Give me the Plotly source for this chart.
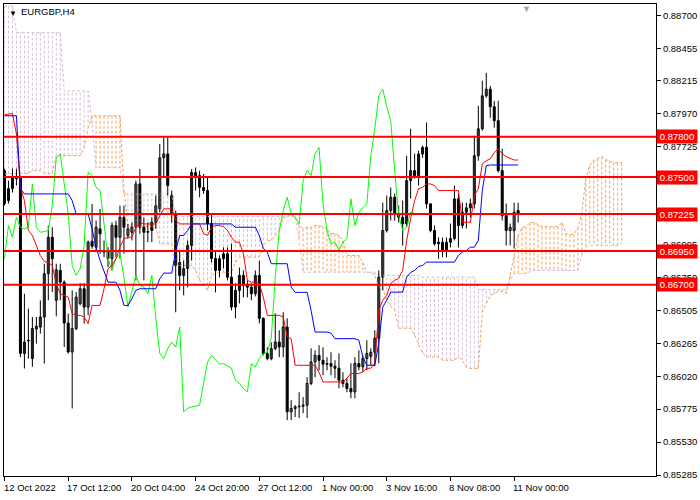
import plotly.graph_objects as go

# ---- data (EURGBP H4), bar index 0 = 12 Oct 2022 20:00 ----
open_ = [0.87548,0.87325,0.87414,0.87503,0.87496,0.86188,0.86282,0.86151,0.86371,0.86385,
         0.86460,0.86782,0.87053,0.86584,0.86806,0.86719,0.86415,0.86200,0.86374,0.86559,
         0.86670,0.86534,0.87023,0.86979,0.87115,0.86954,0.86942,0.86895,0.87140,0.87053,
         0.87201,0.87066,0.87090,0.87127,0.87449,0.87127,0.87090,0.87164,0.87164,0.87264,
         0.87644,0.87672,0.87362,0.87229,0.86865,0.86769,0.86821,0.86991,0.87533,0.87511,
         0.87422,0.87400,0.87155,0.86895,0.86806,0.86893,0.86930,0.86756,0.86534,0.86658,
         0.86769,0.86695,0.86682,0.86633,0.86769,0.86450,0.86188,0.86151,0.86225,0.86274,
         0.86237,0.86385,0.85755,0.85780,0.85792,0.85797,0.85805,0.85966,0.86126,0.86175,
         0.86138,0.86109,0.86114,0.86094,0.86079,0.85990,0.85966,0.85928,0.85903,0.86114,
         0.86089,0.86151,0.86168,0.86198,0.86302,0.86756,0.87103,0.87251,0.87350,0.87227,
         0.87201,0.87152,0.87474,0.87548,0.87511,0.87672,0.87721,0.87301,0.87103,0.87004,
         0.87016,0.86954,0.87016,0.87043,0.87338,0.87140,0.87239,0.87271,0.87301,0.87659,
         0.87859,0.88104,0.88154,0.88023,0.87919,0.87548,0.87214,0.87103,0.87103,0.87251]
high = [0.87563,0.87474,0.87563,0.87563,0.87511,0.86633,0.86522,0.86460,0.86460,0.86584,
        0.86856,0.87140,0.87127,0.86856,0.86856,0.86732,0.86485,0.86658,0.86645,0.86712,
        0.86712,0.87029,0.87301,0.87177,0.87264,0.87029,0.86979,0.87164,0.87177,0.87288,
        0.87288,0.87152,0.87164,0.87474,0.87560,0.87201,0.87164,0.87201,0.87362,0.87746,
        0.87795,0.87795,0.87400,0.87251,0.86954,0.86880,0.87029,0.87560,0.87572,0.87548,
        0.87523,0.87498,0.87229,0.86954,0.86917,0.86977,0.86977,0.87006,0.86710,0.86828,
        0.86806,0.86732,0.86710,0.86806,0.86880,0.86457,0.86235,0.86272,0.86487,0.86361,
        0.86495,0.86450,0.85842,0.85805,0.85901,0.85864,0.86012,0.86227,0.86213,0.86250,
        0.86235,0.86161,0.86198,0.86138,0.86190,0.86049,0.86005,0.86116,0.86161,0.86213,
        0.86175,0.86287,0.86227,0.86361,0.86806,0.87310,0.87362,0.87422,0.87377,0.87288,
        0.87325,0.87659,0.87859,0.87674,0.87696,0.87733,0.87906,0.87303,0.87140,0.87051,
        0.87051,0.87051,0.87155,0.87437,0.87377,0.87310,0.87310,0.87340,0.87808,0.88030,
        0.88216,0.88275,0.88178,0.88067,0.88067,0.87711,0.87303,0.87155,0.87310,0.87310]
low = [0.87288,0.87303,0.87385,0.87437,0.86161,0.86077,0.86151,0.86089,0.86262,0.86336,
       0.86114,0.86584,0.86645,0.86465,0.86584,0.86237,0.86188,0.85780,0.86361,0.86546,
       0.86411,0.86472,0.86967,0.86942,0.86930,0.86905,0.86831,0.86806,0.86905,0.86893,
       0.86930,0.87041,0.87029,0.86732,0.87078,0.86732,0.87016,0.87016,0.87115,0.87239,
       0.87498,0.87362,0.87162,0.86495,0.86658,0.86621,0.86680,0.86880,0.87400,0.87350,
       0.87375,0.87103,0.86865,0.86643,0.86754,0.86821,0.86732,0.86509,0.86450,0.86561,
       0.86606,0.86606,0.86584,0.86613,0.86413,0.86175,0.86138,0.86138,0.86213,0.86161,
       0.86161,0.85693,0.85693,0.85716,0.85708,0.85745,0.85708,0.85953,0.86012,0.86064,
       0.86027,0.86064,0.86027,0.86005,0.85931,0.85938,0.85901,0.85856,0.85856,0.86064,
       0.86049,0.86064,0.86101,0.86094,0.86116,0.86658,0.87088,0.87177,0.87177,0.87162,
       0.86991,0.87132,0.87340,0.87488,0.87437,0.87644,0.87266,0.87090,0.86991,0.86893,
       0.86905,0.86902,0.86977,0.87029,0.86977,0.87118,0.87118,0.87199,0.87266,0.87622,
       0.87845,0.88089,0.87941,0.87867,0.87533,0.87177,0.86991,0.86991,0.86969,0.87162]
close = [0.87303,0.87414,0.87496,0.87488,0.86190,0.86274,0.86287,0.86374,0.86391,0.86460,
         0.86782,0.87053,0.86893,0.86811,0.86719,0.86415,0.86200,0.86374,0.86608,0.86670,
         0.86534,0.87016,0.86986,0.87127,0.87078,0.86942,0.86895,0.87140,0.87053,0.87201,
         0.87127,0.87115,0.87127,0.87449,0.87127,0.87090,0.87095,0.87103,0.87288,0.87644,
         0.87672,0.87437,0.87227,0.86843,0.86769,0.86819,0.86991,0.87535,0.87511,0.87424,
         0.87400,0.87152,0.86895,0.86806,0.86893,0.86930,0.86756,0.86534,0.86658,0.86769,
         0.86695,0.86682,0.86633,0.86769,0.86450,0.86188,0.86151,0.86225,0.86274,0.86237,
         0.86385,0.85755,0.85780,0.85792,0.85797,0.85805,0.85966,0.86126,0.86175,0.86138,
         0.86109,0.86114,0.86094,0.86079,0.85990,0.85966,0.85928,0.85903,0.86114,0.86089,
         0.86151,0.86188,0.86198,0.86302,0.86756,0.87103,0.87251,0.87350,0.87227,0.87201,
         0.87152,0.87474,0.87548,0.87511,0.87672,0.87721,0.87301,0.87103,0.87004,0.87016,
         0.86954,0.87016,0.87043,0.87338,0.87140,0.87239,0.87271,0.87301,0.87659,0.87859,
         0.88104,0.88154,0.88023,0.87919,0.87548,0.87214,0.87103,0.87125,0.87239,0.87229]

tenkan = [0.87963,0.87969,0.87973,0.87820,0.87424,0.87325,0.87103,0.87066,0.86991,0.86917,
          0.86873,0.86865,0.86843,0.86707,0.86633,0.86621,0.86608,0.86485,0.86472,0.86472,
          0.86460,0.86411,0.86546,0.86546,0.86546,0.86670,0.86819,0.86843,0.86893,0.86979,
          0.87041,0.87053,0.87053,0.87127,0.87164,0.87152,0.87152,0.87152,0.87152,0.87214,
          0.87264,0.87264,0.87264,0.87177,0.87152,0.87152,0.87152,0.87152,0.87152,0.87152,
          0.87080,0.87066,0.87127,0.87140,0.87140,0.87132,0.87103,0.87053,0.87016,0.87016,
          0.86930,0.86732,0.86719,0.86719,0.86707,0.86608,0.86472,0.86472,0.86472,0.86472,
          0.86460,0.86311,0.86299,0.86101,0.86101,0.86101,0.86101,0.86101,0.86101,0.86049,
          0.85977,0.85977,0.85977,0.85977,0.85977,0.85977,0.86005,0.86040,0.86040,0.86040,
          0.86052,0.86079,0.86079,0.86116,0.86509,0.86584,0.86621,0.86710,0.86732,0.86747,
          0.86806,0.87029,0.87192,0.87325,0.87414,0.87424,0.87449,0.87449,0.87437,0.87400,
          0.87400,0.87400,0.87400,0.87400,0.87400,0.87164,0.87164,0.87164,0.87362,0.87414,
          0.87598,0.87622,0.87635,0.87681,0.87709,0.87674,0.87652,0.87637,0.87627,0.87627]
kijun = [0.87956,0.87956,0.87956,0.87956,0.87414,0.87375,0.87375,0.87375,0.87375,0.87375,
         0.87375,0.87375,0.87375,0.87375,0.87375,0.87375,0.87375,0.87325,0.87227,0.87227,
         0.87227,0.87227,0.87115,0.86979,0.86880,0.86806,0.86719,0.86719,0.86719,0.86658,
         0.86546,0.86546,0.86596,0.86658,0.86670,0.86670,0.86670,0.86670,0.86670,0.86744,
         0.86786,0.86786,0.86786,0.86954,0.87066,0.87066,0.87103,0.87152,0.87152,0.87152,
         0.87152,0.87152,0.87152,0.87152,0.87152,0.87152,0.87152,0.87152,0.87127,0.87127,
         0.87127,0.87127,0.87127,0.87127,0.87066,0.86969,0.86942,0.86856,0.86856,0.86856,
         0.86856,0.86856,0.86682,0.86643,0.86643,0.86643,0.86643,0.86509,0.86348,0.86348,
         0.86348,0.86348,0.86339,0.86299,0.86299,0.86299,0.86299,0.86299,0.86299,0.86287,
         0.86163,0.86101,0.86101,0.86101,0.86265,0.86534,0.86584,0.86645,0.86645,0.86645,
         0.86645,0.86756,0.86791,0.86806,0.86836,0.86843,0.86868,0.86868,0.86868,0.86868,
         0.86868,0.86868,0.86868,0.86868,0.86917,0.86942,0.86954,0.86979,0.86979,0.87029,
         0.87400,0.87585,0.87590,0.87590,0.87590,0.87590,0.87590,0.87590,0.87590,0.87590]
span_a = [0.87526,0.87526,0.87526,0.87526,0.87526,0.87526,0.87526,0.87548,0.87548,0.87548,
          0.87526,0.87526,0.87526,0.87659,0.87659,0.87659,0.87659,0.87659,0.87659,0.87659,
          0.87718,0.87867,0.87956,0.87956,0.87956,0.87956,0.87956,0.87956,0.87956,0.87956,
          0.87400,0.87132,0.87132,0.87132,0.87132,0.87132,0.87132,0.87132,0.87132,0.87004,
          0.87004,0.87004,0.87004,0.86843,0.86843,0.86843,0.86843,0.86843,0.86806,0.86732,
          0.86695,0.86658,0.86769,0.86784,0.86793,0.86793,0.86793,0.86793,0.86865,0.86905,
          0.86905,0.86905,0.86905,0.86905,0.86905,0.86991,0.87029,0.87029,0.87066,0.87103,
          0.87192,0.87207,0.87229,0.87192,0.87140,0.87118,0.87127,0.87127,0.87140,0.87140,
          0.87132,0.87118,0.87080,0.87080,0.87066,0.87029,0.86917,0.86917,0.86917,0.86917,
          0.86865,0.86793,0.86791,0.86769,0.86680,0.86672,0.86584,0.86539,0.86509,0.86376,
          0.86376,0.86376,0.86376,0.86324,0.86250,0.86190,0.86163,0.86163,0.86163,0.86163,
          0.86138,0.86138,0.86138,0.86138,0.86161,0.86138,0.86089,0.86077,0.86077,0.86077,
          0.86495,0.86561,0.86621,0.86633,0.86650,0.86650,0.86635,0.86769,0.86917,0.87066,
          0.87125,0.87132,0.87162,0.87162,0.87147,0.87132,0.87132,0.87132,0.87132,0.87132,
          0.87162,0.87080,0.87073,0.87073,0.87125,0.87236,0.87488,0.87585,0.87622,0.87637,
          0.87652,0.87629,0.87622,0.87607,0.87607,0.87607]
span_b = [0.88772,0.88772,0.88772,0.88574,0.88574,0.88574,0.88574,0.88574,0.88574,0.88574,
          0.88574,0.88574,0.88574,0.88574,0.88574,0.88141,0.88141,0.88141,0.88141,0.88141,
          0.88141,0.88141,0.87897,0.87570,0.87570,0.87570,0.87570,0.87570,0.87570,0.87570,
          0.87375,0.87375,0.87375,0.87375,0.87375,0.87375,0.87375,0.87375,0.87375,0.87375,
          0.87375,0.87375,0.87375,0.87207,0.87207,0.87207,0.87207,0.87207,0.87207,0.87207,
          0.87207,0.87207,0.87207,0.87207,0.87207,0.87207,0.87207,0.87207,0.87207,0.87207,
          0.87207,0.87207,0.87207,0.87207,0.87207,0.87207,0.87207,0.87207,0.87207,0.87207,
          0.87207,0.87207,0.87207,0.87207,0.87029,0.86793,0.86793,0.86793,0.86793,0.86793,
          0.86793,0.86793,0.86793,0.86793,0.86793,0.86793,0.86793,0.86793,0.86793,0.86793,
          0.86793,0.86793,0.86793,0.86793,0.86769,0.86769,0.86769,0.86769,0.86769,0.86769,
          0.86769,0.86769,0.86769,0.86769,0.86769,0.86756,0.86756,0.86756,0.86756,0.86756,
          0.86756,0.86756,0.86756,0.86756,0.86756,0.86756,0.86756,0.86756,0.86756,0.86665,
          0.86665,0.86665,0.86665,0.86665,0.86665,0.86665,0.86665,0.86732,0.86782,0.86782,
          0.86782,0.86782,0.86799,0.86806,0.86806,0.86806,0.86806,0.86806,0.86806,0.86806,
          0.86806,0.86806,0.86806,0.86806,0.86806,0.86917,0.86977,0.86991,0.86991,0.86991,
          0.86991,0.86991,0.86991,0.86991,0.86991,0.87006]

chikou_shift = 26
level_lines = [0.87800, 0.87500, 0.87225, 0.86950, 0.86700]
tick_bars = [0, 16, 32, 48, 64, 80, 96, 112, 128]
tick_labels = ["12 Oct 2022", "17 Oct 12:00", "20 Oct 04:00", "24 Oct 20:00", "27 Oct 12:00",
               "1 Nov 00:00", "3 Nov 16:00", "8 Nov 08:00", "11 Nov 00:00"]
price_ticks = [0.88700, 0.88455, 0.88215, 0.87970, 0.87725, 0.87480, 0.87235, 0.86995,
               0.86750, 0.86505, 0.86265, 0.86020, 0.85775, 0.85530, 0.85285]
symbol_title = "EURGBP,H4"

# ---- styles ----
FONT = "Liberation Sans"
FS = 9.5
SANDY = "#F4A460"
THISTLE = "#D8BFD8"

bars = list(range(len(close)))
cloud_x = list(range(len(span_a)))

fig = go.Figure()

# cloud hatch: one vertical dotted segment per bar between the spans
hx_a, hy_a, hx_b, hy_b = [], [], [], []
for i, (a, b) in enumerate(zip(span_a, span_b)):
    if a >= b:
        hx_a += [i, i, None]; hy_a += [a, b, None]
    else:
        hx_b += [i, i, None]; hy_b += [a, b, None]
fig.add_trace(go.Scatter(x=hx_a, y=hy_a, mode="lines", hoverinfo="skip",
                         line=dict(color=SANDY, width=1, dash="3px,2px")))
fig.add_trace(go.Scatter(x=hx_b, y=hy_b, mode="lines", hoverinfo="skip",
                         line=dict(color=THISTLE, width=1, dash="3px,2px")))
fig.add_trace(go.Scatter(x=cloud_x, y=span_a, mode="lines",
                         line=dict(color=SANDY, width=1, dash="3px,2px")))
fig.add_trace(go.Scatter(x=cloud_x, y=span_b, mode="lines",
                         line=dict(color=THISTLE, width=1, dash="3px,2px")))

# candles: wicks, then bodies (white = up, black = down)
wx, wy = [], []
for i in bars:
    wx += [i, i, None]; wy += [high[i], low[i], None]
fig.add_trace(go.Scatter(x=wx, y=wy, mode="lines", hoverinfo="skip",
                         line=dict(color="black", width=1)))
up = [c >= o for o, c in zip(open_, close)]
fig.add_trace(go.Bar(x=bars, base=open_, y=[c - o for o, c in zip(open_, close)],
                     width=0.5,
                     marker=dict(color=["white" if u else "black" for u in up],
                                 line=dict(color="black", width=1))))

# chikou (close shifted back), tenkan, kijun
fig.add_trace(go.Scatter(x=[b - chikou_shift for b in bars[chikou_shift:]],
                         y=close[chikou_shift:], mode="lines",
                         line=dict(color="#00FF00", width=1)))
fig.add_trace(go.Scatter(x=bars, y=tenkan, mode="lines", line=dict(color="#FF0000", width=1)))
fig.add_trace(go.Scatter(x=bars, y=kijun, mode="lines", line=dict(color="#0000FF", width=1)))

shapes = [dict(type="line", xref="paper", x0=0, x1=1, yref="y", y0=close[-1], y1=close[-1],
               line=dict(color="#C0C0C0", width=1), layer="above")]
for lv in level_lines:
    shapes.append(dict(type="line", xref="paper", x0=0, x1=1, yref="y", y0=lv, y1=lv,
                       line=dict(color="#FF0000", width=2), layer="above"))

annotations = []
for b, t in zip(tick_bars, tick_labels):
    annotations.append(dict(x=b, xref="x", y=0, yref="paper", text=t, showarrow=False,
                            xanchor="left", yanchor="top", yshift=-4, xshift=-3,
                            font=dict(family=FONT, size=FS, color="black")))
for lv in level_lines:
    annotations.append(dict(x=1, xref="paper", y=lv, yref="y", text=f"{lv:.5f}",
                            showarrow=False, xanchor="left", yanchor="middle", xshift=0,
                            width=38, height=11, align="center",
                            bgcolor="#FF0000", borderpad=1,
                            font=dict(family=FONT, size=FS, color="white")))
annotations.append(dict(x=0, xref="paper", y=1, yref="paper", text="▼", showarrow=False,
                        xanchor="left", yanchor="top", xshift=3, yshift=-3,
                        font=dict(family=FONT, size=8, color="black")))
annotations.append(dict(x=0, xref="paper", y=1, yref="paper", text=symbol_title,
                        showarrow=False, xanchor="left", yanchor="top", xshift=15, yshift=0,
                        font=dict(family=FONT, size=FS, color="black")))
annotations.append(dict(x=len(close) + 1, xref="x", y=1, yref="paper", text="▼",
                        showarrow=False, xanchor="center", yanchor="top", yshift=2,
                        font=dict(family=FONT, size=9, color="#A0A0A0")))

fig.update_layout(
    width=700, height=500,
    margin=dict(l=3, r=42, t=3, b=24),
    paper_bgcolor="white", plot_bgcolor="white",
    showlegend=False, barmode="overlay",
    shapes=shapes, annotations=annotations,
    xaxis=dict(range=[-0.125, 163.625], showgrid=False, zeroline=False,
               showline=True, mirror=True, linecolor="black", linewidth=1,
               ticks="outside", ticklen=4, tickcolor="black",
               tickvals=tick_bars, showticklabels=False),
    yaxis=dict(range=[0.852779, 0.887868], side="right", showgrid=False, zeroline=False,
               showline=True, mirror=True, linecolor="black", linewidth=1,
               ticks="outside", ticklen=4, tickcolor="black",
               tickvals=price_ticks, ticktext=[f"{v:.5f}" for v in price_ticks],
               tickfont=dict(family=FONT, size=FS, color="black")),
)

fig.write_html("out.html", config={"displayModeBar": False},
               post_script="document.body.style.margin='0';document.body.style.overflow='hidden';")
